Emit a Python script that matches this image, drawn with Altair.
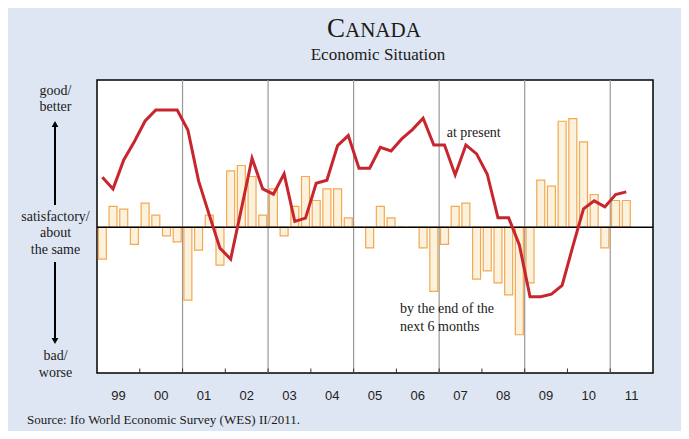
import altair as alt
import pandas as pd

# ---- data (balance units, 0 = satisfactory) ----
years = list(range(1999, 2012))
year_labels = ["99", "00", "01", "02", "03", "04", "05", "06", "07", "08", "09", "10", "11"]

# expectations "by the end of the next 6 months" (bars), 1999Q1 .. 2011Q2
expectations = [
    -32, 20.7, 18, -17.3,
    24, 12, -8.7, -14.7,
    -73, -23, 12, -38,
    56.3, 61.7, 50.7, 12,
    38.3, -8.7, 20.7, 50.7,
    26.7, 38.3, 38.3, 9.3,
    0, -20.7, 20.7, 9.3,
    0, 0, -20.7, -64.3,
    -17.3, 20.7, 24, -52,
    -43.7, -55.7, -67.7, -107.7,
    -55.7, 47, 41, 106,
    108.7, 85.3, 32.7, -20.7,
    26.7, 26.7,
]

# present situation (line), 1999Q1 .. 2011Q2
present = [
    50, 38.3, 67.3, 85.7,
    106.3, 117.3, 117.3, 117.3,
    97.3, 46.3, 12.3, -21,
    -32, 18, 69, 38.3,
    33, 53.3, 5.7, 9,
    44, 47, 81.7, 91.7,
    59, 59, 80, 76.3,
    88.3, 97.7, 109, 82.3,
    82.3, 52.3, 82.3, 73.3,
    53, 9.3, 9.3, -17.7,
    -69.7, -69.7, -67, -58.3,
    -19.3, 18.3, 26.3, 20.3,
    32.7, 35.3,
]

grid_years = [2001, 2003, 2005, 2007, 2009, 2011]
tick_years = list(range(2000, 2012))

# ---- tables ----
q = pd.DataFrame({
    "i": range(len(expectations)),
    "exp": expectations,
    "pres": present,
})
q["t"] = 1999 + (q["i"] + 0.5) / 4

yl = pd.DataFrame({"t": [y + 0.5 for y in years], "lab": year_labels})
gl = pd.DataFrame({"t": grid_years})
tk = pd.DataFrame({"t": tick_years})

W, H = 556, 293
xs = alt.Scale(domain=[1999, 2012], nice=False, zero=False, padding=0)
ys = alt.Scale(domain=[-146, 147.3], nice=False, zero=False, padding=0)
X = lambda f="t": alt.X(f"{f}:Q", scale=xs, axis=None)

SERIF = "Liberation Serif"
SANS = "Liberation Sans"
one = lambda: alt.Data(values=[{"k": 1}])


def label(text, x, y, size=14, align="center", font=SERIF, lh=16.7):
    return alt.Chart(one()).mark_text(
        text=text, align=align, baseline="alphabetic", font=font,
        fontSize=size, color="#1a1a1a", lineBreak="\n", lineHeight=lh,
    ).encode(x=alt.value(x), y=alt.value(y))


grid = alt.Chart(gl).mark_rule(color="#999999", strokeWidth=1.2).encode(
    x=X(), y=alt.value(0), y2=alt.value(H)
)

bars = alt.Chart(q).mark_bar(
    size=8, fill="#faf2dc", stroke="#f39a35", strokeWidth=1.2, strokeOpacity=0.85
).encode(
    x=X(), y=alt.Y("exp:Q", scale=ys, axis=None), y2=alt.datum(0)
)

zero = alt.Chart(one()).mark_rule(color="black", strokeWidth=1.5).encode(
    y=alt.Y(datum=0, scale=ys, axis=None), x=alt.value(0), x2=alt.value(W)
)

line = alt.Chart(q).mark_line(color="#c8262e", strokeWidth=3, strokeJoin="miter").encode(
    x=X(), y=alt.Y("pres:Q", scale=ys, axis=None)
)

ticks = alt.Chart(tk).mark_rule(color="#333333", strokeWidth=1).encode(
    x=X(), y=alt.value(H - 4.5), y2=alt.value(H)
)

ylab = alt.Chart(yl).mark_text(
    font=SANS, fontSize=13, color="#222222", baseline="alphabetic"
).encode(x=X(), y=alt.value(320), text="lab:N")

# arrows on the left
arrows = [
    alt.Chart(one()).mark_rule(color="black", strokeWidth=2).encode(
        x=alt.value(-42), y=alt.value(44), y2=alt.value(125)),
    alt.Chart(one()).mark_point(shape="triangle-up", filled=True, color="black",
                                size=45, opacity=1).encode(
        x=alt.value(-42), y=alt.value(44)),
    alt.Chart(one()).mark_rule(color="black", strokeWidth=2).encode(
        x=alt.value(-42), y=alt.value(182), y2=alt.value(261)),
    alt.Chart(one()).mark_point(shape="triangle-down", filled=True, color="black",
                                size=45, opacity=1).encode(
        x=alt.value(-42), y=alt.value(261)),
]

texts = [
    label("C", 248, -43.3, size=27, align="right"),
    label("ANADA", 248, -43.3, size=21, align="left"),
    label("Economic Situation", 281, -20, size=17),
    label("good/\nbetter", -41.5, 15, lh=15.5),
    label("satisfactory/\nabout\nthe same", -41.5, 140.7),
    label("bad/\nworse", -41.5, 280, lh=16.7),
    label("at present", 349.7, 56.7, align="left"),
    label("by the end of the\nnext 6 months", 303, 232.5, align="left", lh=18.5),
    label("Source: Ifo World Economic Survey (WES) II/2011.", -70, 344, size=13,
          align="left"),
]

chart = alt.layer(grid, bars, zero, line, ticks, ylab, *arrows, *texts).properties(
    width=W,
    height=H,
    background="#dfe6f3",
    padding={"left": 89, "top": 72, "right": 28, "bottom": 58},
    autosize=alt.AutoSizeParams(type="none"),
).configure_view(fill="white", stroke="black", strokeWidth=1.5)

chart.save("out.html", embed_options={"renderer": "svg", "actions": False})
